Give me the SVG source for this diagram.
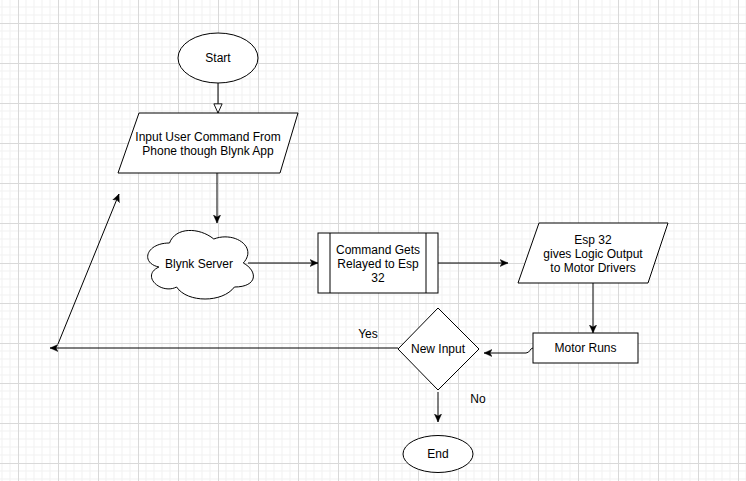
<svg xmlns="http://www.w3.org/2000/svg" width="746" height="481" viewBox="0 0 746 481">
  <style>
    .shape { fill: #ffffff; stroke: #000000; stroke-width: 1; }
    .conn { fill: none; stroke: #000000; stroke-width: 1; }
    .lbl { font-family: "Liberation Sans", Arial, sans-serif; font-size: 12px; fill: #000000; text-anchor: middle; dominant-baseline: central; }
  </style>
  <defs>
    <pattern id="grid" x="18" y="23" width="40" height="40" patternUnits="userSpaceOnUse">
      <path d="M8,0 V40 M16,0 V40 M24,0 V40 M32,0 V40 M0,8 H40 M0,16 H40 M0,24 H40 M0,32 H40" stroke="#f1f1f1" stroke-width="1" fill="none"/>
      <path d="M0.5,0 V40 M0,0.5 H40" stroke="#d9d9d9" stroke-width="1" fill="none"/>
    </pattern>
    <marker id="arrow" viewBox="0 0 10 10" refX="10" refY="5" markerWidth="8" markerHeight="8" markerUnits="userSpaceOnUse" orient="auto">
      <path d="M0,0.5 L10,5 L0,9.5 L2.5,5 Z" fill="#000000" stroke="#000000" stroke-width="0.5"/>
    </marker>
    <marker id="openTri" viewBox="0 0 12 12" refX="11" refY="6" markerWidth="11" markerHeight="11" markerUnits="userSpaceOnUse" orient="auto">
      <path d="M1,1.5 L11,6 L1,10.5 Z" fill="#ffffff" stroke="#000000" stroke-width="1"/>
    </marker>
  </defs>

  <rect x="0" y="0" width="746" height="481" fill="#ffffff"/>
  <rect x="0" y="0" width="746" height="481" fill="url(#grid)"/>

  <g id="connectors">
    <path class="conn" d="M218,83 L218,113" marker-end="url(#openTri)"/>
    <path class="conn" d="M217,173 L217,223" marker-end="url(#arrow)"/>
    <path class="conn" d="M248,263 L318,263" marker-end="url(#arrow)"/>
    <path class="conn" d="M438,263 L508,263" marker-end="url(#arrow)"/>
    <path class="conn" d="M593,283 L593,333" marker-end="url(#arrow)"/>
    <path class="conn" d="M533,348 C530,348 530,353 526,353 L484,353" marker-end="url(#arrow)"/>
    <path class="conn" d="M398,348 L50,348" marker-end="url(#arrow)"/>
    <path class="conn" d="M58,344 L119,194" marker-end="url(#arrow)"/>
    <path class="conn" d="M438,392 L438,422" marker-end="url(#arrow)"/>
    <text class="lbl" x="368" y="334">Yes</text>
    <text class="lbl" x="478" y="399">No</text>
  </g>

  <g id="start">
    <ellipse class="shape" cx="218" cy="58" rx="40" ry="25"/>
    <text class="lbl" x="218" y="58">Start</text>
  </g>

  <g id="input">
    <polygon class="shape" points="139,113 298,113 280,173 118,173"/>
    <text class="lbl" x="208" y="137">Input User Command From</text>
    <text class="lbl" x="208" y="151">Phone though Blynk App</text>
  </g>

  <g id="blynk-server">
    <path class="shape" d="M169.5,243 C145.9,243 140,263 158.9,267 C140,275.8 161.2,295 176.6,287 C187.2,303 222.6,303 234.4,287 C258,287 258,271 243.3,263 C258,247 234.4,231 213.8,239 C199,227 175.4,227 169.5,243 Z"/>
    <text class="lbl" x="199" y="264">Blynk Server</text>
  </g>

  <g id="relay">
    <rect class="shape" x="318" y="233" width="120" height="60"/>
    <line class="conn" x1="330" y1="233" x2="330" y2="293"/>
    <line class="conn" x1="426" y1="233" x2="426" y2="293"/>
    <text class="lbl" x="378" y="250">Command Gets</text>
    <text class="lbl" x="378" y="264">Relayed to Esp</text>
    <text class="lbl" x="378" y="278">32</text>
  </g>

  <g id="esp-output">
    <polygon class="shape" points="539,223 668,223 648,283 518,283"/>
    <text class="lbl" x="593" y="240">Esp 32</text>
    <text class="lbl" x="593" y="254">gives Logic Output</text>
    <text class="lbl" x="593" y="268">to Motor Drivers</text>
  </g>

  <g id="motor-runs">
    <rect class="shape" x="533" y="333" width="105" height="30"/>
    <text class="lbl" x="585.5" y="348">Motor Runs</text>
  </g>

  <g id="new-input">
    <polygon class="shape" points="438,308 479,349 438,390 398,349"/>
    <text class="lbl" x="438" y="349">New Input</text>
  </g>

  <g id="end">
    <ellipse class="shape" cx="438" cy="454" rx="35" ry="18.5"/>
    <text class="lbl" x="438" y="454">End</text>
  </g>
</svg>
